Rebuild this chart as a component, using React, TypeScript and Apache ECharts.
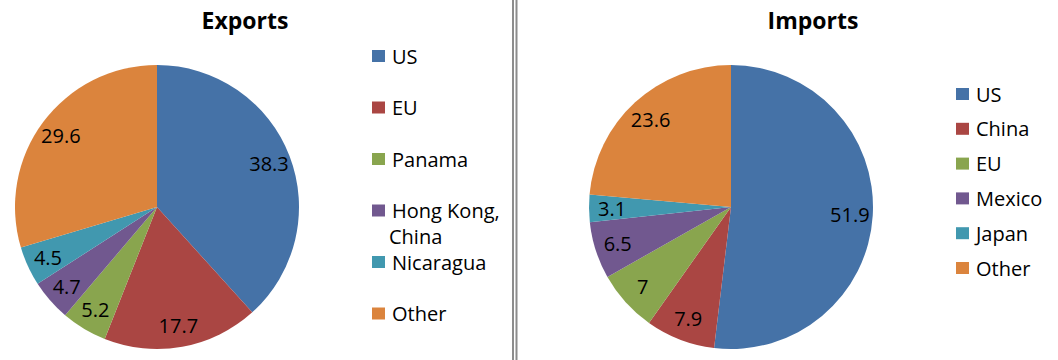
import React, { useEffect, useRef } from "react";
import * as echarts from "echarts";

const exportNames = ["US", "EU", "Panama", "Hong Kong, China", "Nicaragua", "Other"];
const exportValues = [38.3, 17.7, 5.2, 4.7, 4.5, 29.6];
const importNames = ["US", "China", "EU", "Mexico", "Japan", "Other"];
const importValues = [51.9, 7.9, 7, 6.5, 3.1, 23.6];
const exportColors = ["#4572A7", "#AA4643", "#89A54E", "#71588F", "#4198AF", "#DB843D"];
const importColors = ["#4572A7", "#AA4643", "#89A54E", "#71588F", "#4198AF", "#DB843D"];

const FONT = "Open Sans";

export default function App() {
  const ref = useRef<HTMLDivElement>(null);
  useEffect(() => {
    if (!ref.current) return;
    const chart = echarts.init(ref.current, null, { renderer: "svg" });
    const expData = exportNames.map((n, i) => ({ name: n, value: exportValues[i], itemStyle: { color: exportColors[i] } }));
    const impData = importNames.map((n, i) => ({ name: n, value: importValues[i], itemStyle: { color: importColors[i] } }));
    const labelStyle = { show: true, position: "inside", formatter: "{c}", fontSize: 20, fontFamily: FONT, color: "#000" };
    const mainPie = (id: string, center: any, data: any[]) => ({
      type: "pie", id, name: id, center, radius: 142, startAngle: 90, clockwise: true,
      label: { show: false }, labelLine: { show: false }, silent: true, data,
    });
    const labelPie = (id: string, center: any, r0: number, data: any[]) => ({
      type: "pie", id, center, radius: [r0, 142], startAngle: 90, clockwise: true, silent: true,
      label: labelStyle, labelLine: { show: false },
      data: data.map((d) => ({ name: d.name, value: d.value, itemStyle: { color: "rgba(0,0,0,0)" } })),
      legendHoverLink: false,
    });
    chart.setOption({
      animation: false,
      backgroundColor: "#fff",
      title: [
        { text: "Exports", left: 240, top: 3, textAlign: "center", textStyle: { fontFamily: FONT, fontSize: 23, fontWeight: "bold", color: "#000" } },
        { text: "Imports", left: 808, top: 3, textAlign: "center", textStyle: { fontFamily: FONT, fontSize: 23, fontWeight: "bold", color: "#000" } },
      ],
      legend: [
        {
          seriesIndex: 0, orient: "vertical", left: 367, top: 39, itemWidth: 13, itemHeight: 12, itemGap: 27.5,
          icon: "rect", selectedMode: false,
          data: expData.map((d) => ({ name: d.name, itemStyle: d.itemStyle })),
          formatter: (n: string) => (n === "Hong Kong, China" ? "Hong Kong," : n),
          textStyle: { fontFamily: FONT, fontSize: 20, color: "#000", lineHeight: 24, padding: [0, 0, 0, 2] },
        },
        {
          orient: "vertical", left: 951, top: 77, itemWidth: 13, itemHeight: 12, itemGap: 10.8,
          icon: "rect", selectedMode: false,
          data: impData.map((d) => ({ name: d.name + " ", itemStyle: d.itemStyle })),
          formatter: (n: string) => n.trim(),
          textStyle: { fontFamily: FONT, fontSize: 20, color: "#000", lineHeight: 24, padding: [0, 0, 0, 2] },
        },
      ],
      graphic: [
        { type: "text", left: 389, top: 226, style: { text: "China", font: `20px "${FONT}"`, lineHeight: 20, fill: "#000" } },
        { type: "line", shape: { x1: 513, y1: 0, x2: 513, y2: 360 }, style: { stroke: "#8c8c8c", lineWidth: 2 } },
        { type: "line", shape: { x1: 516.5, y1: 0, x2: 516.5, y2: 360 }, style: { stroke: "#8c8c8c", lineWidth: 2 } },
      ],
      series: [
        mainPie("exports", [157, 207], expData),
        mainPie("imports", [731, 207], impData.map((d) => ({ ...d, name: d.name + " " }))),
        labelPie("exportsLabels", [157, 207], 92, expData),
        labelPie("importsLabels", [731, 207], 90, impData),
      ],
    });
    return () => chart.dispose();
  }, []);
  return <div ref={ref} style={{ position: "fixed", left: 0, top: 0, width: 1058, height: 360 }} />;
}
